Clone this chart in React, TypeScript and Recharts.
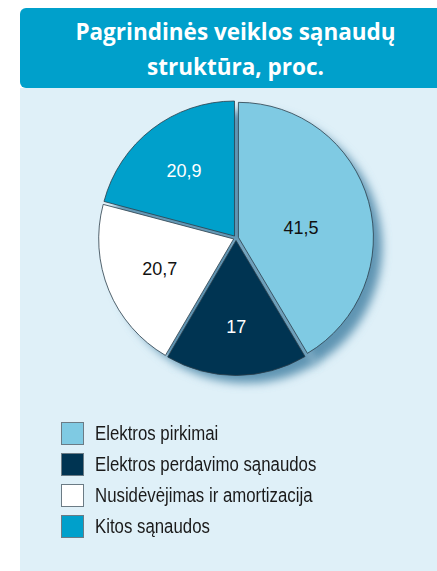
import React from "react";
import { PieChart, Pie, Cell, Sector, Legend } from "recharts";

const categories = [
  "Elektros pirkimai",
  "Elektros perdavimo sąnaudos",
  "Nusidėvėjimas ir amortizacija",
  "Kitos sąnaudos",
];
const values = [41.5, 17, 20.7, 20.9];
const valueLabels = ["41,5", "17", "20,7", "20,9"];

const COLORS = ["#7fcae3", "#003452", "#ffffff", "#00a0cb"];
const LABEL_COLORS = ["#111111", "#ffffff", "#111111", "#ffffff"];
const LABEL_RADIUS = [0.5, 0.66, 0.61, 0.63];
const LABEL_DY = [8, 0, 0, 0];

const data = categories.map((name, i) => ({ name, value: values[i], label: valueLabels[i] }));

const RAD = Math.PI / 180;
const W = 417;
const H = 483;
const CX = 211;
const CY = 145;
const R = 135;
const EXPLODE = 2.5;

const ExplodedSector = (props: any) => {
  const { cx, cy, midAngle } = props;
  const dx = EXPLODE * Math.cos(-midAngle * RAD);
  const dy = EXPLODE * Math.sin(-midAngle * RAD);
  return <Sector {...props} cx={cx + dx} cy={cy + dy} />;
};

const ShadowSector = (props: any) => (
  <g>
    <defs>
      <filter id="pieShadowBlur" x="-30%" y="-30%" width="160%" height="160%">
        <feGaussianBlur stdDeviation="5" />
      </filter>
    </defs>
    <Sector {...props} filter="url(#pieShadowBlur)" />
  </g>
);

const renderLabel = (props: any) => {
  const { cx, cy, midAngle, outerRadius, index } = props;
  const r = outerRadius * LABEL_RADIUS[index];
  const x = cx + r * Math.cos(-midAngle * RAD);
  const y = cy + r * Math.sin(-midAngle * RAD) + LABEL_DY[index];
  return (
    <text
      x={x}
      y={y}
      fill={LABEL_COLORS[index]}
      textAnchor="middle"
      dominantBaseline="central"
      fontFamily="'Liberation Sans', Arial, sans-serif"
      fontSize={18}
    >
      {data[index].label}
    </text>
  );
};

const renderLegend = () => (
  <div>
    {categories.map((c, i) => (
      <div
        key={c}
        style={{ display: "flex", alignItems: "center", height: 31 }}
      >
        <div
          style={{
            width: 23,
            height: 23,
            background: COLORS[i],
            border: "1px solid #6b7b85",
            boxSizing: "border-box",
            marginRight: 11,
            flex: "none",
          }}
        />
        <span
          style={{
            fontFamily: "'Liberation Sans', Arial, sans-serif",
            fontSize: 20,
            color: "#1a1a1a",
            whiteSpace: "nowrap",
            display: "inline-block",
            transform: "scaleX(0.84)",
            transformOrigin: "left center",
          }}
        >
          {c}
        </span>
      </div>
    ))}
  </div>
);

export default function App() {
  return (
    <div
      style={{
        position: "absolute",
        left: 0,
        top: 0,
        width: 437,
        height: 571,
        background: "#ffffff",
        overflow: "hidden",
      }}
    >
      <div
        style={{
          position: "absolute",
          left: 20,
          top: 88,
          width: W,
          height: H,
          background: "#dff0f8",
        }}
      />
      <div
        style={{
          position: "absolute",
          left: 20,
          top: 8,
          width: W,
          height: 80,
          boxSizing: "border-box",
          paddingLeft: 14,
          paddingTop: 2,
          background: "#00a0cb",
          borderRadius: "6px 0 0 6px",
          color: "#ffffff",
          fontFamily: "'Open Sans', Lato, sans-serif",
          fontWeight: 700,
          fontSize: 22.5,
          lineHeight: "35px",
          textAlign: "center",
          display: "flex",
          flexDirection: "column",
          justifyContent: "center",
        }}
      >
        <div>Pagrindinės veiklos sąnaudų</div>
        <div>struktūra, proc.</div>
      </div>
      <div style={{ position: "absolute", left: 20, top: 88 }}>
        <PieChart width={W} height={H}>
          <Pie
            data={data}
            dataKey="value"
            nameKey="name"
            cx={CX + 10}
            cy={CY + 9}
            outerRadius={R}
            startAngle={90}
            endAngle={-270}
            fill="#5e94b2"
            stroke="#5e94b2"
            strokeWidth={2}
            shape={ShadowSector}
            isAnimationActive={false}
            legendType="none"
          />
          <Pie
            data={data}
            dataKey="value"
            nameKey="name"
            cx={CX}
            cy={CY}
            outerRadius={R}
            startAngle={90}
            endAngle={-270}
            stroke="#2b3d4a"
            strokeWidth={0.8}
            shape={ExplodedSector}
            label={renderLabel}
            labelLine={false}
            isAnimationActive={false}
          >
            {data.map((d, i) => (
              <Cell key={d.name} fill={COLORS[i]} />
            ))}
          </Pie>
          <Legend
            content={renderLegend}
            layout="vertical"
            wrapperStyle={{ position: "absolute", left: 41, top: 330, width: 340 }}
          />
        </PieChart>
      </div>
    </div>
  );
}
